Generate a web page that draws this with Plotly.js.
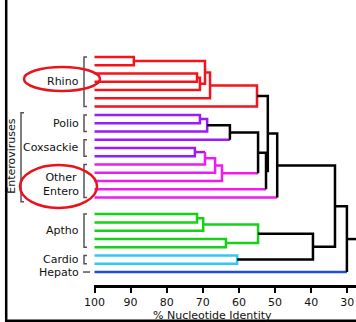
<!DOCTYPE html>
<html><head><meta charset="utf-8">
<script src="https://cdn.plot.ly/plotly-3.0.1.min.js"></script>
<style>html,body{margin:0;padding:0;background:#fff;overflow:hidden}#chart{width:356px;height:322px}</style>
</head><body><div id="chart"></div>
<script>
// ---- data ----
const groupNames = ['Rhino','Polio','Coxsackie','Other<br>Entero','Aptho','Cardio','Hepato'];
const groupSizes = [7,3,3,5,5,2,1];
const leafColorKey = ['R','R','R','R','R','R','R','P','P','P','P','P','P','M','M','M','M','M','G','G','G','G','G','C','C','H'];
// merges (node ids: leaves 0..25, merges 26..50 in order)
const mergeLeft  = [0,2,27,26,29,30, 7,32,33, 11,35,36,37, 34,39,31,41, 18,43,21,44, 23,46,42,49];
const mergeRight = [1,3,4,28,5,6, 8,9,10, 12,13,14,15, 38,16,40,17, 19,20,22,45, 24,47,48,25];
const mergeIdentity = [89.1,71.6,70.8,69.4,68.0,55.0, 70.8,68.8,62.5, 72.2,69.4,66.6,64.7, 54.7,52.5,52.0,49.4, 71.6,69.9,63.6,54.7, 60.5,39.5,33.4,30.1];
const mergeVertKey = ['R','R','R','R','R','R', 'P','P','K', 'P','M','M','M', 'K','K','K','K', 'G','G','G','G', 'C','K','K','K'];
const mergeUpKey   = ['R','R','R','R','R','K', 'P','K','K', 'P','M','M','M', 'K','K','K','K', 'G','G','G','K', 'K','K','K','K'];
const tickValues = [100,90,80,70,60,50,40,30];
const tickLabels = ['100','90','80','70','60','50','40','30'];

// ---- styles ----
const colorMap = {R:'#f2151b', P:'#9a1cf6', M:'#ee1ded', G:'#14d214', C:'#34c6f4', H:'#1f4fd4', K:'#000000'};
const FONT = 'DejaVu Sans';
const L = 94, W = 356 - L, PH = 285;
const pxX = px => (px - L) / W;
const pxY = py => (PH - py) / PH;
const xRange = [100.14, 27.58];
const yRange = [27.57, -6.89];
const gapIndex = 18;

// ---- build tree geometry ----
const nLeaves = leafColorKey.length;
const nodeX = [], nodeY = [], upColor = [];
for (let i = 0; i < nLeaves; i++) {
  nodeX.push(100); nodeY.push(i + (i >= gapIndex ? 1 : 0)); upColor.push(colorMap[leafColorKey[i]]);
}
const polys = {}; // color -> {x:[],y:[]}
function addPoly(color, pts) {
  if (!polys[color]) polys[color] = {x: [], y: []};
  const p = polys[color];
  pts.forEach(q => { p.x.push(q[0]); p.y.push(q[1]); });
  p.x.push(null); p.y.push(null);
}
for (let m = 0; m < mergeLeft.length; m++) {
  const a = mergeLeft[m], b = mergeRight[m], h = mergeIdentity[m];
  const id = nLeaves + m;
  nodeX[id] = h; nodeY[id] = (nodeY[a] + nodeY[b]) / 2;
  upColor[id] = colorMap[mergeUpKey[m]];
  const vc = colorMap[mergeVertKey[m]];
  let pts = [[h, nodeY[a]], [h, nodeY[b]]];
  if (upColor[a] === vc) pts.unshift([nodeX[a], nodeY[a]]);
  else addPoly(upColor[a], [[nodeX[a], nodeY[a]], [h, nodeY[a]]]);
  if (upColor[b] === vc) pts.push([nodeX[b], nodeY[b]]);
  else addPoly(upColor[b], [[h, nodeY[b]], [nodeX[b], nodeY[b]]]);
  addPoly(vc, pts);
}
const root = nLeaves + mergeLeft.length - 1;
addPoly(upColor[root], [[nodeX[root], nodeY[root]], [xRange[1] - 2, nodeY[root]]]);

const order = [colorMap.R, colorMap.P, colorMap.M, colorMap.G, colorMap.C, colorMap.H, colorMap.K];
const traces = order.filter(c => polys[c]).map(c => ({
  type: 'scatter', mode: 'lines', x: polys[c].x, y: polys[c].y,
  line: {color: c, width: 2.5}, hoverinfo: 'skip', showlegend: false, cliponaxis: true
}));

// ---- labels and brackets ----
const annotations = [], shapes = [];
let start = 0;
groupSizes.forEach((n, g) => {
  const y0 = nodeY[start], y1 = nodeY[start + n - 1];
  const yc = (y0 + y1) / 2;
  annotations.push({xref: 'paper', yref: 'y', x: pxX(81), y: yc, xanchor: 'right', yanchor: 'middle',
    text: groupNames[g], showarrow: false, align: 'center', yshift: g === 3 ? -3 : 0,
    font: {family: FONT, size: 11, color: '#111'}});
  if (n > 1) {
    shapes.push({type: 'path', xref: 'paper', yref: 'y',
      path: `M ${pxX(87)} ${y0} L ${pxX(84)} ${y0} L ${pxX(84)} ${y1} L ${pxX(87)} ${y1}`,
      line: {color: '#555', width: 1.5}});
  } else {
    shapes.push({type: 'line', xref: 'paper', yref: 'y', x0: pxX(83), x1: pxX(90), y0: y0, y1: y0,
      line: {color: '#555', width: 1.5}});
  }
  start += n;
});
// Enteroviruses bracket (Polio..Other Entero)
const eTop = nodeY[7] - 0.25, eBot = nodeY[17] + 0.5;
shapes.push({type: 'path', xref: 'paper', yref: 'y',
  path: `M ${pxX(24)} ${eTop} L ${pxX(21)} ${eTop} L ${pxX(21)} ${eBot} L ${pxX(24)} ${eBot}`,
  line: {color: '#555', width: 1.5}});
annotations.push({xref: 'paper', yref: 'y', x: pxX(11.5), y: (nodeY[7] + nodeY[17]) / 2, textangle: -90,
  xanchor: 'center', yanchor: 'middle', text: 'Enteroviruses', showarrow: false,
  font: {family: FONT, size: 11, color: '#111'}});
// axis title
annotations.push({xref: 'paper', yref: 'paper', x: pxX(212.5), y: pxY(315.5), xanchor: 'center', yanchor: 'middle',
  text: '% Nucleotide Identity', showarrow: false, font: {family: FONT, size: 11, color: '#111'}});
// red ellipses
shapes.push({type: 'circle', xref: 'paper', yref: 'paper', x0: pxX(24), x1: pxX(100), y0: pxY(91), y1: pxY(67),
  line: {color: '#e8141b', width: 2.5}});
shapes.push({type: 'circle', xref: 'paper', yref: 'paper', x0: pxX(20), x1: pxX(97), y0: pxY(208), y1: pxY(165),
  line: {color: '#e8141b', width: 2.5}});
// frame lines
shapes.push({type: 'line', xref: 'paper', yref: 'paper', x0: pxX(6.2), x1: pxX(6.2), y0: pxY(0), y1: pxY(322),
  line: {color: '#000', width: 2.5}});
shapes.push({type: 'line', xref: 'paper', yref: 'paper', x0: pxX(5), x1: pxX(356), y0: pxY(320.8), y1: pxY(320.8),
  line: {color: '#000', width: 2.5}});

const layout = {
  width: 356, height: 322, margin: {l: L, r: 0, t: 0, b: 322 - PH},
  paper_bgcolor: '#fff', plot_bgcolor: '#fff', showlegend: false,
  xaxis: {range: xRange, tickvals: tickValues, ticktext: tickLabels, ticks: 'outside', ticklen: 5, tickwidth: 2,
    tickcolor: '#000', showline: true, linecolor: '#000', linewidth: 2.5, showgrid: false, zeroline: false,
    tickfont: {family: FONT, size: 11, color: '#111'}, fixedrange: true},
  yaxis: {range: yRange, visible: false, fixedrange: true},
  annotations: annotations, shapes: shapes, font: {family: FONT}
};
Plotly.newPlot('chart', traces, layout, {staticPlot: true, displayModeBar: false});
</script></body></html>
